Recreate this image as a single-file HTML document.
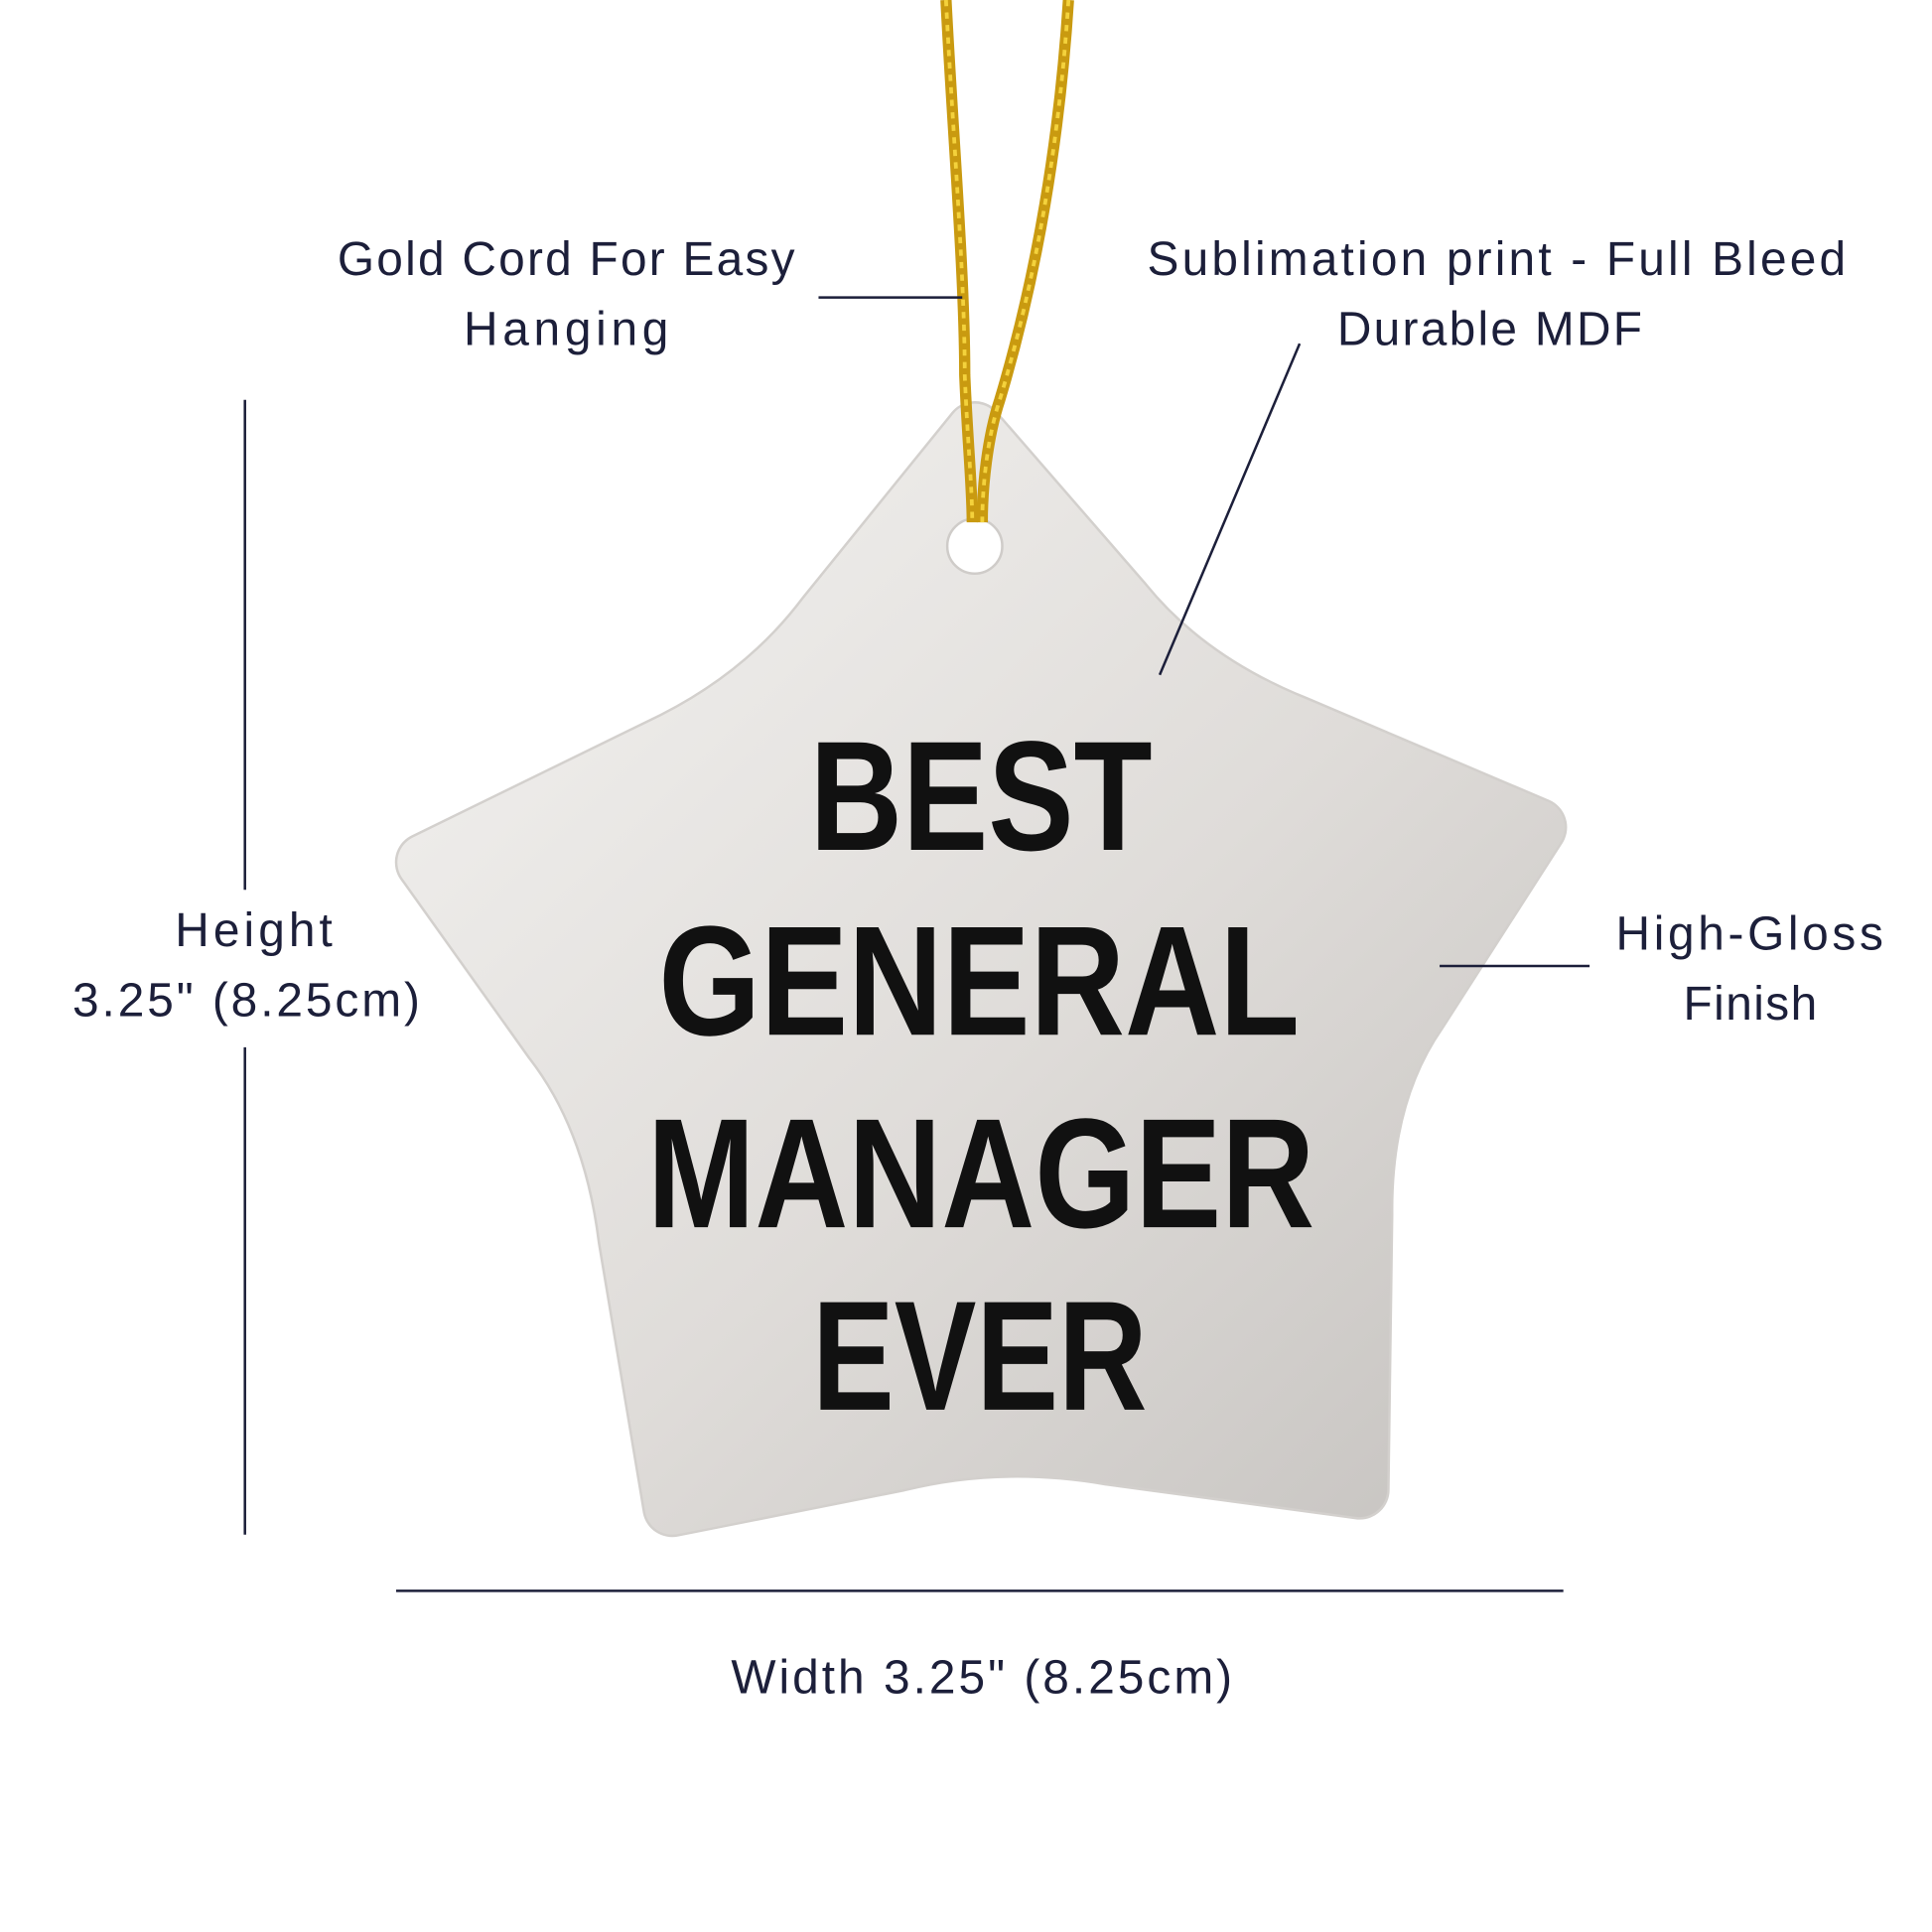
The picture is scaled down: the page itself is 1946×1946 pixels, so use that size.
<!DOCTYPE html>
<html><head><meta charset="utf-8">
<style>
html,body{margin:0;padding:0;background:#fff;}
svg{display:block;}
</style></head>
<body>
<svg width="1946" height="1946" viewBox="0 0 1546 1546" xmlns="http://www.w3.org/2000/svg">
<defs>
<linearGradient id="g" x1="0" y1="0" x2="1" y2="1">
<stop offset="0" stop-color="#f4f3f1"/>
<stop offset="0.55" stop-color="#dfdcd9"/>
<stop offset="1" stop-color="#c6c3c0"/>
</linearGradient>
</defs>
<!-- star -->
<path id="st" d="M780 345 L899 482 Q950 545 1037 580 L1230 662 L1135 810 Q1090 875 1091 972 L1088 1192 L888 1165 Q800 1150 719 1170 L538 1206 L502 991 Q490 895 442 833 L340 690 L526 599 Q610 560 661 492 Z"
 fill="url(#g)" stroke="#d3d0cd" stroke-width="48" stroke-linejoin="round"/>
<path d="M780 345 L899 482 Q950 545 1037 580 L1230 662 L1135 810 Q1090 875 1091 972 L1088 1192 L888 1165 Q800 1150 719 1170 L538 1206 L502 991 Q490 895 442 833 L340 690 L526 599 Q610 560 661 492 Z"
 fill="url(#g)" stroke="url(#g)" stroke-width="44" stroke-linejoin="round"/>
<circle cx="780" cy="437" r="22" fill="#fff" stroke="#cfccc9" stroke-width="2"/>
<!-- cord -->
<path d="M757 0 C762 100,772 220,772 300 C774 350,778 390,778 418" stroke="#c99a10" stroke-width="9" fill="none"/>
<path d="M855 0 C848 110,830 220,800 320 C790 350,786 390,786 418" stroke="#c99a10" stroke-width="9" fill="none"/>
<path d="M757 0 C762 100,772 220,772 300 C774 350,778 390,778 418" stroke="#f4d23c" stroke-width="3" stroke-dasharray="5 5" fill="none"/>
<path d="M855 0 C848 110,830 220,800 320 C790 350,786 390,786 418" stroke="#f4d23c" stroke-width="3" stroke-dasharray="5 5" fill="none"/>
<!-- text on star -->
<g font-family="Liberation Sans, sans-serif" font-weight="bold" fill="#111">
<text x="648" y="680" font-size="125" textLength="274" lengthAdjust="spacingAndGlyphs">BEST</text>
<text x="527" y="828" font-size="125" textLength="513" lengthAdjust="spacingAndGlyphs">GENERAL</text>
<text x="518" y="982" font-size="125" textLength="534" lengthAdjust="spacingAndGlyphs">MANAGER</text>
<text x="650" y="1128" font-size="125" textLength="268" lengthAdjust="spacingAndGlyphs">EVER</text>
</g>
<!-- lines -->
<g stroke="#1c1f3a" stroke-width="2" fill="none">
<line x1="655" y1="238" x2="770" y2="238"/>
<line x1="1040" y1="275" x2="928" y2="540"/>
<line x1="196" y1="320" x2="196" y2="712"/>
<line x1="196" y1="838" x2="196" y2="1228"/>
<line x1="1152" y1="773" x2="1272" y2="773"/>
<line x1="317" y1="1273" x2="1251" y2="1273"/>
</g>
<!-- labels -->
<g font-family="Liberation Sans, sans-serif" font-size="38" fill="#1c1f3a" lengthAdjust="spacingAndGlyphs">
<text x="270" y="220" textLength="366">Gold Cord For Easy</text>
<text x="371" y="276" textLength="164">Hanging</text>
<text x="918" y="220" textLength="559">Sublimation print - Full Bleed</text>
<text x="1070" y="276" textLength="244">Durable MDF</text>
<text x="140" y="757" textLength="126">Height</text>
<text x="58" y="813" textLength="278">3.25" (8.25cm)</text>
<text x="1293" y="760" textLength="214">High-Gloss</text>
<text x="1347" y="816" textLength="107">Finish</text>
<text x="585" y="1355" textLength="401">Width 3.25" (8.25cm)</text>
</g>
</svg>
</body></html>
